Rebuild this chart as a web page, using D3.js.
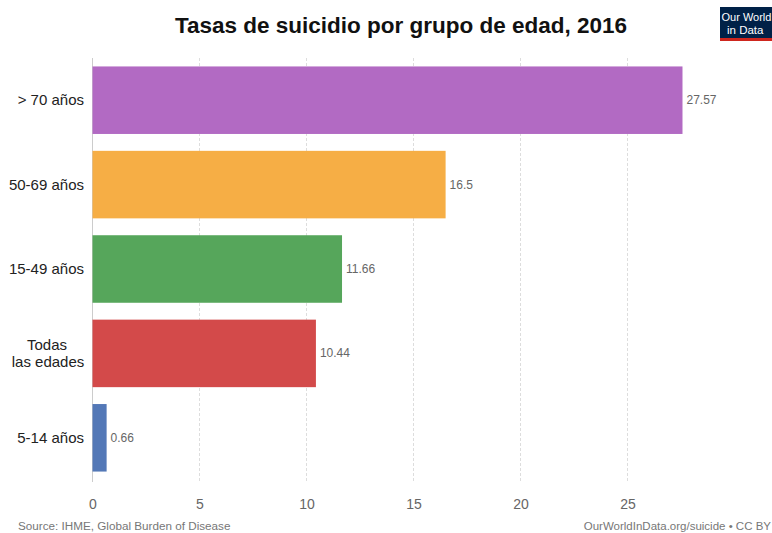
<!DOCTYPE html>
<html>
<head>
<meta charset="utf-8">
<script src="https://cdn.jsdelivr.net/npm/d3@7"></script>
<style>
  html, body { margin: 0; padding: 0; background: #fff; }
  svg { display: block; font-family: "Liberation Sans", Arial, sans-serif; }
</style>
</head>
<body>
<svg id="chart" width="772" height="533"></svg>
<script>
// Suicide rates per 100,000 by age group, 2016
const categories = ["> 70 años", "50-69 años", "15-49 años", "Todas las edades", "5-14 años"];
const values = [27.57, 16.5, 11.66, 10.44, 0.66];
const valueLabels = ["27.57", "16.5", "11.66", "10.44", "0.66"];
const colors = ["#b26ac3", "#f6ae45", "#56a65b", "#d34a4a", "#5378b7"];
const xTicks = [0, 5, 10, 15, 20, 25];

const svg = d3.select("#chart");
const x = d3.scaleLinear().domain([0, 25]).range([92.5, 627.5]);
const y = d3.scaleBand().domain(categories).range([58, 480]).paddingInner(0.2).paddingOuter(0.1);

// Title
svg.append("text")
  .attr("x", 401).attr("y", 33)
  .attr("text-anchor", "middle")
  .attr("font-size", 22.5).attr("font-weight", "bold").attr("fill", "#111")
  .text("Tasas de suicidio por grupo de edad, 2016");

// Logo
const logo = svg.append("g").attr("transform", "translate(720,7)");
logo.append("rect").attr("width", 60).attr("height", 34).attr("fill", "#002147");
logo.append("rect").attr("y", 31).attr("width", 60).attr("height", 3).attr("fill", "#ce261e");
logo.append("text").attr("x", 1.5).attr("y", 14)
  .attr("fill", "#fff").attr("font-size", 11).text("Our World");
logo.append("text").attr("x", 7).attr("y", 27)
  .attr("fill", "#fff").attr("font-size", 11.5).text("in Data");

// Grid lines
svg.append("g").selectAll("line")
  .data(xTicks.filter(d => d > 0))
  .join("line")
  .attr("x1", d => x(d)).attr("x2", d => x(d))
  .attr("y1", 58).attr("y2", 482)
  .attr("stroke", "#ddd").attr("stroke-dasharray", "3,2");

// Baseline
svg.append("line")
  .attr("x1", x(0)).attr("x2", x(0)).attr("y1", 58).attr("y2", 482)
  .attr("stroke", "#ccc");

// X axis
const xAxis = d3.axisBottom(x).tickValues(xTicks).tickSize(0).tickPadding(0);
const gx = svg.append("g").attr("transform", "translate(0,509)").call(xAxis);
gx.select(".domain").remove();
gx.selectAll("text").attr("font-size", 14).attr("fill", "#666")
  .attr("font-family", "'Liberation Sans', Arial, sans-serif").attr("dy", 0);

// Bars
svg.append("g").selectAll("rect")
  .data(categories)
  .join("rect")
  .attr("x", x(0))
  .attr("y", d => y(d))
  .attr("width", (d, i) => x(values[i]) - x(0))
  .attr("height", y.bandwidth())
  .attr("fill", (d, i) => colors[i]);

// Value labels
svg.append("g").selectAll("text")
  .data(categories)
  .join("text")
  .attr("x", (d, i) => x(values[i]) + 4)
  .attr("y", d => y(d) + y.bandwidth() / 2 + 4)
  .attr("font-size", 12).attr("fill", "#666")
  .text((d, i) => valueLabels[i]);

// Category labels
const catG = svg.append("g");
categories.forEach((c, i) => {
  const cy = y(c) + y.bandwidth() / 2;
  if (c === "Todas las edades") {
    const t = catG.append("text").attr("text-anchor", "middle").attr("font-size", 15).attr("fill", "#222");
    t.append("tspan").attr("x", 47).attr("y", cy - 3).text("Todas");
    t.append("tspan").attr("x", 48).attr("y", cy + 14).text("las edades");
  } else {
    catG.append("text").attr("x", 84).attr("y", cy + 5)
      .attr("text-anchor", "end").attr("font-size", 15).attr("fill", "#222").text(c);
  }
});

// Footer
svg.append("text").attr("x", 18).attr("y", 530).attr("font-size", 11.7).attr("fill", "#777")
  .text("Source: IHME, Global Burden of Disease");
svg.append("text").attr("x", 771).attr("y", 530).attr("text-anchor", "end").attr("font-size", 11.5).attr("fill", "#777")
  .text("OurWorldInData.org/suicide • CC BY");
</script>
</body>
</html>
